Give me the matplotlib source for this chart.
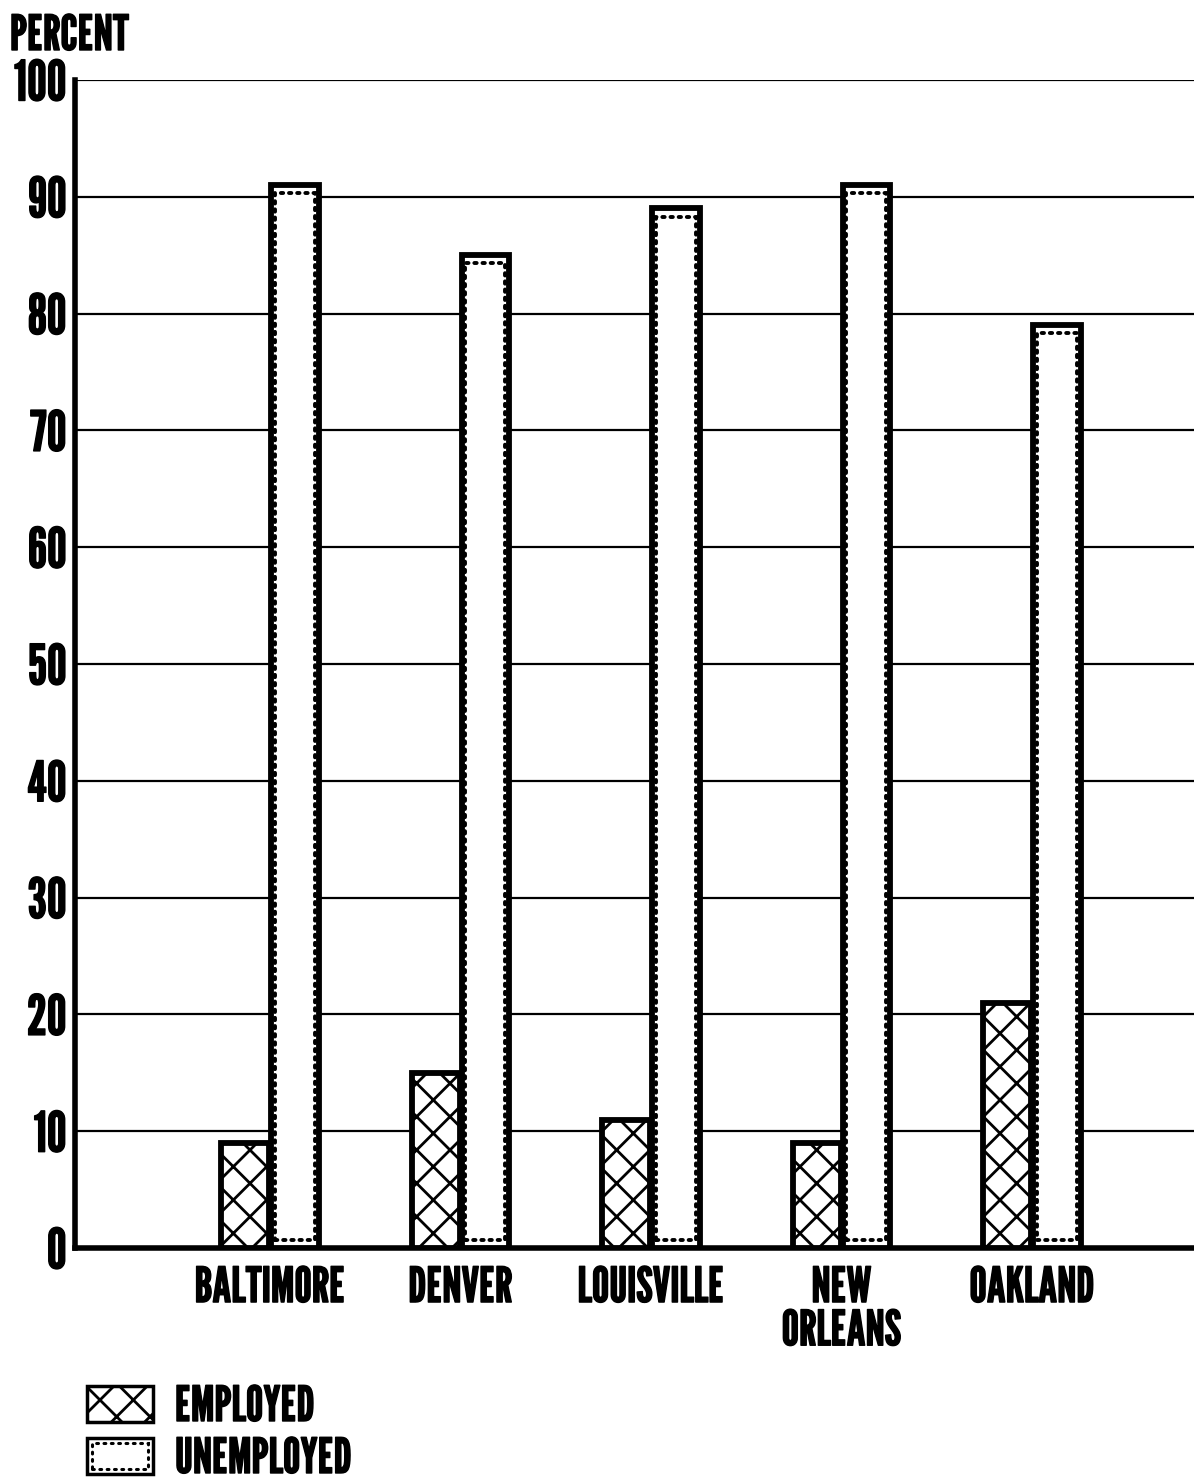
import matplotlib
matplotlib.use("Agg")
import matplotlib.pyplot as plt
from matplotlib.patches import Rectangle
from matplotlib import font_manager
import matplotlib.patheffects as pe
import numpy as np

# Share of each city's group by employment status (percent)
cities = ["BALTIMORE", "DENVER", "LOUISVILLE", "NEW\nORLEANS", "OAKLAND"]
employed = [9, 15, 11, 9, 21]
unemployed = [91, 85, 89, 91, 79]
y_ticks = [0, 10, 20, 30, 40, 50, 60, 70, 80, 90, 100]

available = {f.name for f in font_manager.fontManager.ttflist}
family = [f for f in ["League Gothic", "Oswald", "Antonio", "DejaVu Sans"]
          if f in available] or ["DejaVu Sans"]
plt.rcParams["font.family"] = family
plt.rcParams["font.stretch"] = "condensed"
plt.rcParams["hatch.linewidth"] = 2.0

TICK_FS = 40
LABEL_FS = 35
heavy = [pe.withStroke(linewidth=1.0, foreground="black")]

fig = plt.figure(figsize=(11.94, 14.83), dpi=100)
W, H = 1194, 1483
ax = fig.add_axes([75 / W, (H - 1248) / H, (W - 75) / W, (1248 - 80) / H])

x = np.arange(len(cities))
bw = 0.25
off = 0.13

# gridlines behind bars
for t in y_ticks[1:]:
    ax.axhline(t, color="black", lw=1.6, zorder=0)

ax.bar(x - off, employed, bw, facecolor="white", edgecolor="black",
       hatch="x", linewidth=4.2, zorder=3)
ax.bar(x + off, unemployed, bw, facecolor="white", edgecolor="black",
       linewidth=4.2, zorder=3)
# stippled inner border of the unemployed bars
inset_x, inset_y = 0.02, 0.7
ax.bar(x + off, np.array(unemployed) - 2 * inset_y, bw - 2 * inset_x,
       bottom=inset_y, facecolor="none", edgecolor="black",
       linewidth=2.8, linestyle=(0, (0.6, 1.5)), capstyle="round", zorder=4)

ax.set_xlim(-1.024, 4.85)
ax.set_ylim(0, 100)
ax.set_yticks(y_ticks)
ax.set_yticklabels([str(t) for t in y_ticks], fontsize=TICK_FS)
ax.set_xticks(x)
ax.set_xticklabels(cities, fontsize=LABEL_FS, linespacing=0.95, va="top")
ax.tick_params(axis="both", length=0)
ax.tick_params(axis="y", pad=6)
ax.tick_params(axis="x", pad=13)
for lbl in ax.get_xticklabels() + ax.get_yticklabels():
    lbl.set_path_effects(heavy)

for s in ["top", "right"]:
    ax.spines[s].set_visible(False)
ax.spines["left"].set_linewidth(4.0)
ax.spines["bottom"].set_linewidth(4.0)

fig.text(10 / W, 1 - 50 / H, "PERCENT", fontsize=LABEL_FS,
         ha="left", va="baseline", path_effects=heavy)

# legend
def legend_box(y_top, hatch, dotted):
    r = Rectangle((87 / W, 1 - (y_top + 38) / H), 66 / W, 36 / H,
                  transform=fig.transFigure, facecolor="white",
                  edgecolor="black", linewidth=2.5, hatch=hatch)
    fig.add_artist(r)
    if dotted:
        r2 = Rectangle((92 / W, 1 - (y_top + 33) / H), 56 / W, 26 / H,
                       transform=fig.transFigure, facecolor="none",
                       edgecolor="black", linewidth=2.2,
                       linestyle=(0, (0.6, 1.8)), capstyle="round")
        fig.add_artist(r2)

legend_box(1384, "x", False)
legend_box(1436, None, True)
fig.text(175 / W, 1 - 1421 / H, "EMPLOYED", fontsize=LABEL_FS,
         ha="left", va="baseline", path_effects=heavy)
fig.text(175 / W, 1 - 1473 / H, "UNEMPLOYED", fontsize=LABEL_FS,
         ha="left", va="baseline", path_effects=heavy)

fig.savefig("out.png", dpi=100, facecolor="white")
